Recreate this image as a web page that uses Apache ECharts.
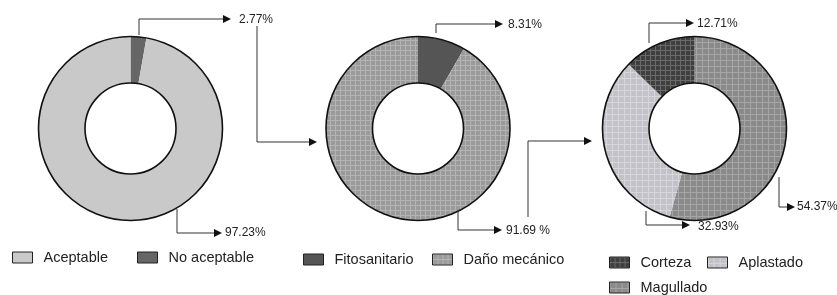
<!DOCTYPE html>
<html>
<head>
<meta charset="utf-8">
<script src="https://cdn.jsdelivr.net/npm/echarts@6/dist/echarts.min.js"></script>
<style>
  html, body { margin: 0; padding: 0; background: #fff; }
  #chart { width: 837px; height: 295px; }
</style>
</head>
<body>
<div id="chart"></div>
<script>
// data (slices go clockwise from 12 o'clock)
const calidadNames = ['No aceptable', 'Aceptable']
const calidadValues = [2.77, 97.23]
const calidadLabels = ['2.77%', '97.23%']

const causaNames = ['Fitosanitario', 'Daño mecánico']
const causaValues = [8.31, 91.69]
const causaLabels = ['8.31%', '91.69 %']

const danoNames = ['Magullado', 'Aplastado', 'Corteza']
const danoValues = [54.37, 32.93, 12.71]
const danoLabels = ['54.37%', '32.93%', '12.71%']

// small tiled fill to mimic the printed hatching
const makePattern = (base, line, step) => {
  const c = document.createElement('canvas')
  c.width = step
  c.height = step
  const ctx = c.getContext('2d')
  ctx.fillStyle = base
  ctx.fillRect(0, 0, step, step)
  ctx.fillStyle = line
  ctx.fillRect(0, 0, step, 1)
  ctx.fillRect(0, 0, 1, step)
  return { image: c, repeat: 'repeat' }
}

const colors = {
  'Aceptable': '#c9c9c9',
  'No aceptable': '#666666',
  'Fitosanitario': '#555555',
  'Daño mecánico': makePattern('#9a9a9a', '#b4b4b4', 5),
  'Corteza': makePattern('#3f3f3f', '#6a6a6a', 5),
  'Aplastado': makePattern('#c2c2c8', '#d6d6dc', 6),
  'Magullado': makePattern('#8a8a8a', '#a6a6a6', 6)
}

const radius = [45.5, 92]

const donut = (names, values, center) => ({
  type: 'pie',
  center: center,
  radius: radius,
  startAngle: 90,
  clockwise: true,
  silent: true,
  label: { show: false },
  labelLine: { show: false },
  itemStyle: { borderWidth: 0 },
  data: names.map((n, i) => ({ name: n, value: values[i], itemStyle: { color: colors[n] } }))
})

// black ring drawn on top of each donut
const outline = (center) => ({
  type: 'pie',
  center: center,
  radius: radius,
  silent: true,
  z: 5,
  label: { show: false },
  labelLine: { show: false },
  itemStyle: { color: 'rgba(0,0,0,0)', borderColor: '#111', borderWidth: 1.6 },
  data: [{ name: '', value: 1 }]
})

const legendItem = (name, left, top) => ({
  data: [name],
  left: left,
  top: top,
  padding: 0,
  itemWidth: 20,
  itemHeight: 11,
  icon: 'rect',
  selectedMode: false,
  itemStyle: { borderColor: '#222', borderWidth: 1 },
  textStyle: { fontSize: 14.5, color: '#222', fontFamily: 'Liberation Sans, Arial', padding: [0, 0, 0, 6] }
})

// elbow arrows: start point, corner, arrow tip, plus where the text goes
const arrows = [
  { pts: [[139, 35], [139, 19], [231, 19]], text: calidadLabels[0], tx: 239, ty: 20 },
  { pts: [[177, 209], [177, 233], [222, 233]], text: calidadLabels[1], tx: 225, ty: 233 },
  { pts: [[257, 26], [257, 142], [317, 142]] },
  { pts: [[436, 33], [436, 24], [503, 24]], text: causaLabels[0], tx: 508, ty: 25 },
  { pts: [[458, 210], [458, 230], [502, 230]], text: causaLabels[1], tx: 506, ty: 231 },
  { pts: [[528, 217], [528, 141], [592, 141]] },
  { pts: [[649, 43], [649, 23], [694, 23]], text: danoLabels[2], tx: 697, ty: 24 },
  { pts: [[779, 177], [779, 207], [795, 207]], text: danoLabels[0], tx: 797, ty: 207 },
  { pts: [[646, 211], [646, 225], [690, 225]], text: danoLabels[1], tx: 698, ty: 227 }
]

const graphics = []
arrows.forEach(a => {
  const tip = a.pts[a.pts.length - 1]
  const line = a.pts.slice(0, -1).concat([[tip[0] - 7, tip[1]]])
  graphics.push({
    type: 'polyline',
    shape: { points: line },
    style: { stroke: '#333', lineWidth: 1, fill: null },
    silent: true,
    z: 10
  })
  graphics.push({
    type: 'polygon',
    shape: { points: [[tip[0] - 8, tip[1] - 4], [tip[0], tip[1]], [tip[0] - 8, tip[1] + 4]] },
    style: { fill: '#111' },
    silent: true,
    z: 10
  })
  if (a.text) {
    graphics.push({
      type: 'text',
      x: a.tx,
      y: a.ty,
      silent: true,
      z: 10,
      style: {
        text: a.text,
        fill: '#222',
        font: '12px "Liberation Sans", Arial',
        textVerticalAlign: 'middle'
      }
    })
  }
})

const myChart = echarts.init(document.getElementById('chart'))
myChart.setOption({
  animation: false,
  legend: [
    legendItem('Aceptable', 12, 250),
    legendItem('No aceptable', 137, 250),
    legendItem('Fitosanitario', 303, 252),
    legendItem('Daño mecánico', 432, 252),
    legendItem('Corteza', 609, 255),
    legendItem('Aplastado', 707, 255),
    legendItem('Magullado', 609, 280)
  ],
  series: [
    donut(calidadNames, calidadValues, [130.5, 128.5]),
    donut(causaNames, causaValues, [418, 128.5]),
    donut(danoNames, danoValues, [694.5, 128.5]),
    outline([130.5, 128.5]),
    outline([418, 128.5]),
    outline([694.5, 128.5])
  ],
  graphic: graphics
})
</script>
</body>
</html>
